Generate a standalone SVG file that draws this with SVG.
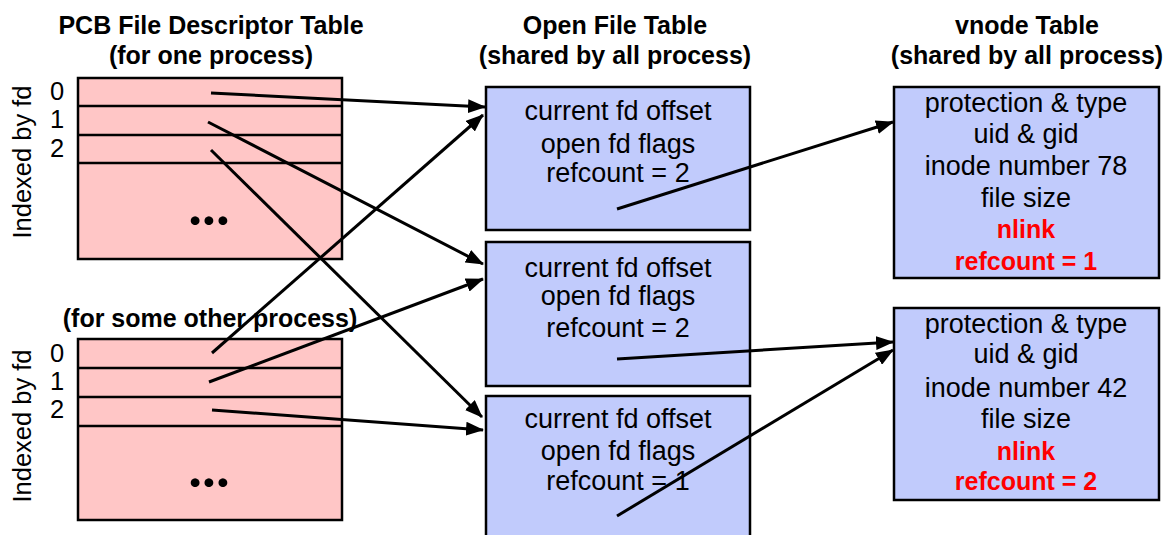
<svg xmlns="http://www.w3.org/2000/svg" width="1166" height="535" viewBox="0 0 1166 535">
<style>
text{font-family:"Liberation Sans",Arial,sans-serif;fill:#000}
.t{font-size:25px;font-weight:bold;text-anchor:middle}
.b{font-size:27px;text-anchor:middle}
.r{font-size:25px;font-weight:bold;text-anchor:middle;fill:#ff0000}
.n{font-size:25.5px;text-anchor:middle}
.pcb{fill:#ffc6c6;stroke:#000;stroke-width:2.5}
.row{stroke:#000;stroke-width:2.5}
.oft{fill:#c1cbfc;stroke:#000;stroke-width:2.5}
.c{stroke:#000;stroke-width:3;fill:none;marker-end:url(#ah)}
.dots{font-family:Lato,"DejaVu Sans",sans-serif;font-size:58px;font-weight:bold;text-anchor:middle}
</style>
<defs>
<marker id="ah" markerUnits="userSpaceOnUse" markerWidth="18" markerHeight="14" refX="17" refY="7" orient="auto">
<path d="M0,0 L18,7 L0,14 Z" fill="#000"/>
</marker>
</defs>
<rect width="1166" height="535" fill="#fff"/>
<g id="titles">
<text class="t" x="211" y="34">PCB File Descriptor Table</text>
<text class="t" x="211" y="64">(for one process)</text>
<text class="t" x="615" y="34">Open File Table</text>
<text class="t" x="615" y="64">(shared by all process)</text>
<text class="t" x="1027" y="34">vnode Table</text>
<text class="t" x="1027" y="64">(shared by all process)</text>
<text class="t" x="210" y="327">(for some other process)</text>
</g>
<g id="pcb1">
<rect class="pcb" x="78" y="78" width="264" height="181"/>
<line class="row" x1="78" y1="106" x2="342" y2="106"/>
<line class="row" x1="78" y1="135" x2="342" y2="135"/>
<line class="row" x1="78" y1="163" x2="342" y2="163"/>
<text class="dots" x="209" y="225">...</text>
<text class="n" x="57" y="100">0</text>
<text class="n" x="57" y="128">1</text>
<text class="n" x="57" y="157">2</text>
<text class="n" transform="translate(31,162) rotate(-90)">Indexed by fd</text>
</g>
<g id="pcb2">
<rect class="pcb" x="78" y="339" width="264" height="181"/>
<line class="row" x1="78" y1="368" x2="342" y2="368"/>
<line class="row" x1="78" y1="397" x2="342" y2="397"/>
<line class="row" x1="78" y1="426" x2="342" y2="426"/>
<text class="dots" x="209" y="487">...</text>
<text class="n" x="57" y="362">0</text>
<text class="n" x="57" y="390">1</text>
<text class="n" x="57" y="418">2</text>
<text class="n" transform="translate(31,426) rotate(-90)">Indexed by fd</text>
</g>
<g id="oft1">
<rect class="oft" x="486" y="87" width="264" height="143"/>
<text class="b" x="618" y="120">current fd offset</text>
<text class="b" x="618" y="153">open fd flags</text>
<text class="b" x="618" y="182">refcount = 2</text>
</g>
<g id="oft2">
<rect class="oft" x="486" y="242" width="264" height="144"/>
<text class="b" x="618" y="277">current fd offset</text>
<text class="b" x="618" y="305">open fd flags</text>
<text class="b" x="618" y="337">refcount = 2</text>
</g>
<g id="oft3">
<rect class="oft" x="486" y="396" width="264" height="150"/>
<text class="b" x="618" y="428">current fd offset</text>
<text class="b" x="618" y="460">open fd flags</text>
<text class="b" x="618" y="490">refcount = 1</text>
</g>
<g id="vnode1">
<rect class="oft" x="894" y="87" width="265" height="191"/>
<text class="b" x="1026" y="112">protection &amp; type</text>
<text class="b" x="1026" y="143">uid &amp; gid</text>
<text class="b" x="1026" y="175">inode number 78</text>
<text class="b" x="1026" y="207">file size</text>
<text class="r" x="1026" y="238">nlink</text>
<text class="r" x="1026" y="270">refcount = 1</text>
</g>
<g id="vnode2">
<rect class="oft" x="894" y="308" width="265" height="192"/>
<text class="b" x="1026" y="333">protection &amp; type</text>
<text class="b" x="1026" y="363">uid &amp; gid</text>
<text class="b" x="1026" y="397">inode number 42</text>
<text class="b" x="1026" y="428">file size</text>
<text class="r" x="1026" y="460">nlink</text>
<text class="r" x="1026" y="490">refcount = 2</text>
</g>
<g id="connectors">
<line class="c" x1="211" y1="93" x2="485" y2="107"/>
<line class="c" x1="208" y1="122" x2="483" y2="264"/>
<line class="c" x1="211" y1="150" x2="482" y2="417"/>
<line class="c" x1="212" y1="353" x2="483" y2="115"/>
<line class="c" x1="209" y1="382" x2="483" y2="279"/>
<line class="c" x1="212" y1="410" x2="483" y2="430"/>
<line class="c" x1="617" y1="209" x2="893" y2="122"/>
<line class="c" x1="617" y1="359" x2="893" y2="342"/>
<line class="c" x1="617" y1="516" x2="893" y2="350"/>
</g>
</svg>
